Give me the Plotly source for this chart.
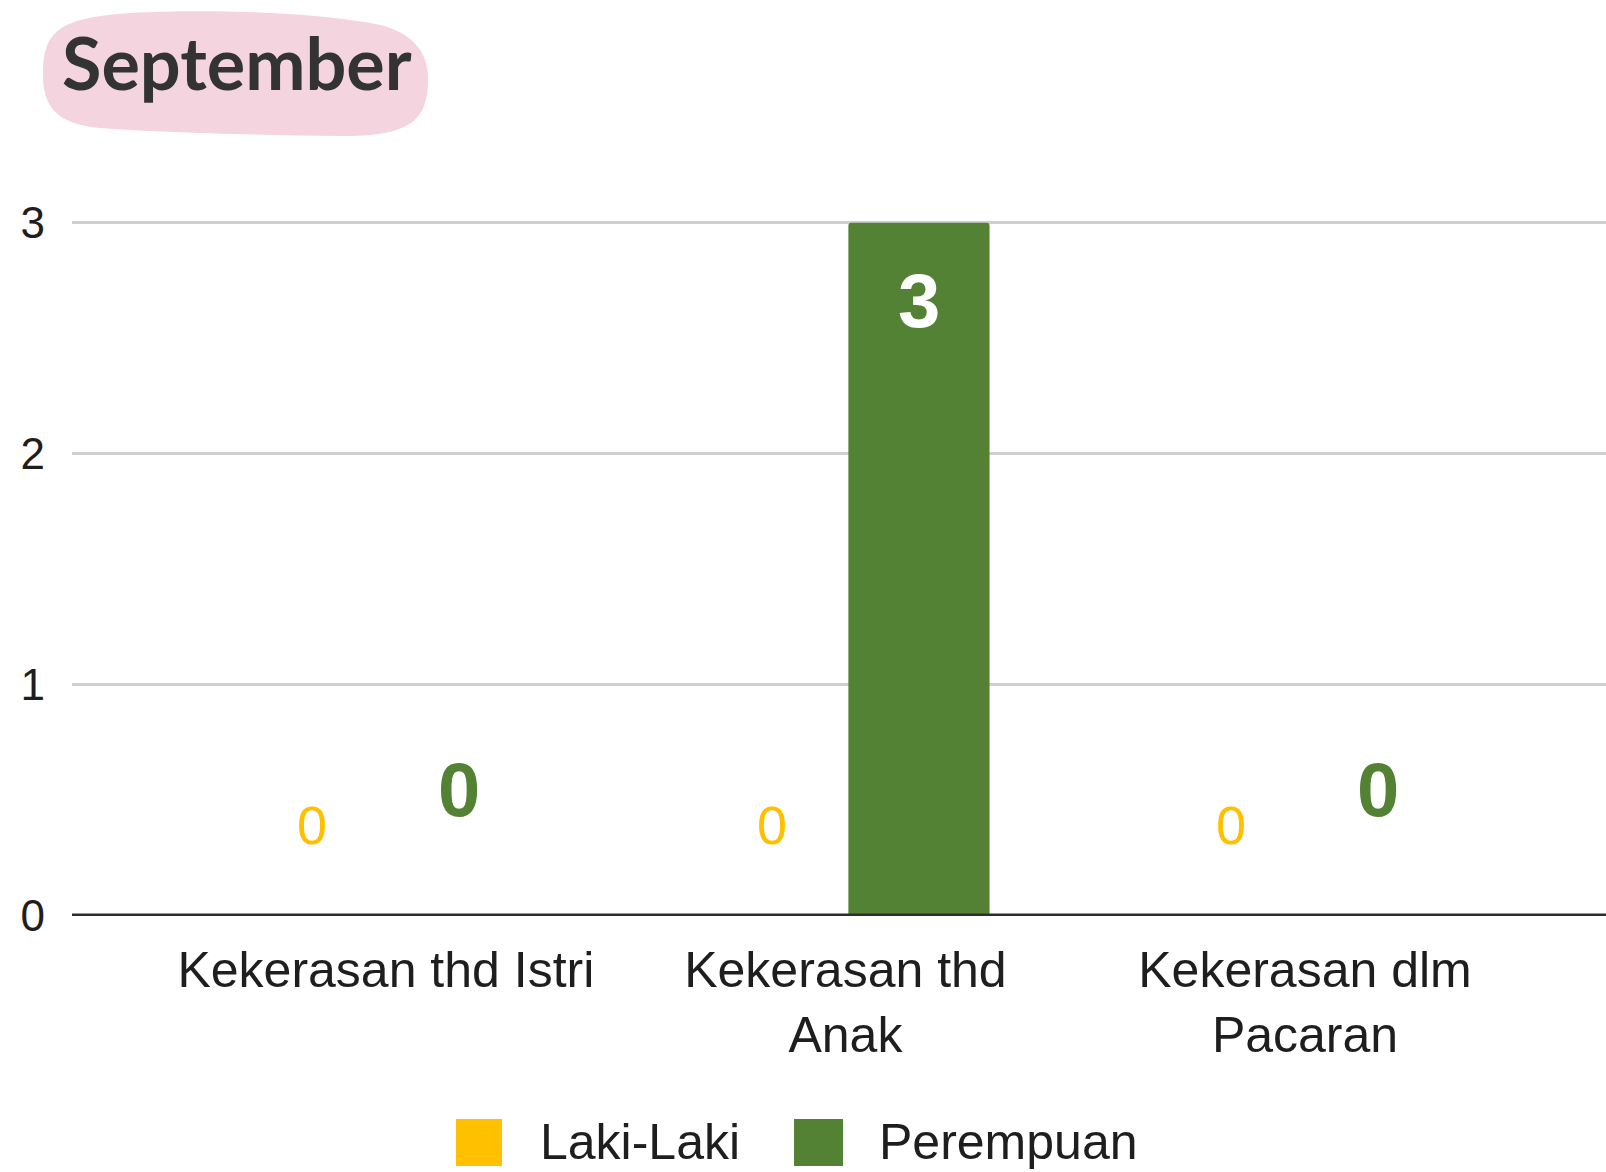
import plotly.graph_objects as go

# ---------------- data ----------------
categories = ["Kekerasan thd Istri", "Kekerasan thd Anak", "Kekerasan dlm Pacaran"]
tick_labels = ["Kekerasan thd Istri", "Kekerasan thd<br>Anak", "Kekerasan dlm<br>Pacaran"]
series_names = ["Laki-Laki", "Perempuan"]
laki_laki = [0, 0, 0]
perempuan = [0, 3, 0]
y_ticks = [0, 1, 2, 3]
title_text = "September"

# ---------------- style ----------------
W, H = 1606, 1172
L, R, T, B = 72, 0, 188, 256
YELLOW = "#FFC000"
GREEN = "#548235"
PINK = "#F4D5DF"
TEXT = "#1E1E1E"
FONT = "Liberation Sans, Arial, sans-serif"

PW = W - L - R
PH = H - T - B


def px2x(px):
    return (px - L) / PW


def py2y(py):
    return (H - B - py) / PH


fig = go.Figure()
fig.add_trace(go.Bar(x=categories, y=laki_laki, name=series_names[0],
                     marker=dict(color=YELLOW, cornerradius=3, line=dict(width=0)), showlegend=False))
fig.add_trace(go.Bar(x=categories, y=perempuan, name=series_names[1],
                     marker=dict(color=GREEN, cornerradius=3, line=dict(width=0)), showlegend=False))

annotations = []
# value labels
for i, v in enumerate(laki_laki):
    annotations.append(dict(
        x=categories[i], y=v, xref="x", yref="y", text=str(v), showarrow=False,
        xshift=-73.5, yshift=(91 if v == 0 else -78), yanchor="middle",
        font=dict(family=FONT, size=54, color=YELLOW if v == 0 else "white")))
for i, v in enumerate(perempuan):
    annotations.append(dict(
        x=categories[i], y=v, xref="x", yref="y", text=str(v), showarrow=False,
        xshift=73.5, yshift=(126.5 if v == 0 else -78), yanchor="middle",
        font=dict(family=FONT, size=76, color=GREEN if v == 0 else "white", weight="bold")))

shapes = []
# baseline (zero line) drawn above the bars
shapes.append(dict(type="line", xref="paper", yref="y", x0=0, x1=1, y0=0, y1=0,
                   line=dict(color="#2E2E2E", width=5), layer="above"))

# legend (manual, large swatches)
legend_items = [(series_names[0], YELLOW, 456, 502, 540), (series_names[1], GREEN, 794, 843, 879)]
for name, col, x0, x1, tx in legend_items:
    shapes.append(dict(type="rect", xref="paper", yref="paper",
                       x0=px2x(x0), x1=px2x(x1), y0=py2y(1166), y1=py2y(1119),
                       fillcolor=col, line=dict(width=0), layer="above"))
    annotations.append(dict(x=px2x(tx - 2), y=py2y(1142), xref="paper", yref="paper",
                            text=name, showarrow=False, xanchor="left", yanchor="middle",
                            font=dict(family=FONT, size=50, color=TEXT)))

# title blob
blob_pts = [
    ("M", [(43, 75)]),
    ("C", [(43, 30), (60, 18), (130, 13)]),
    ("C", [(220, 8), (330, 14), (380, 25)]),
    ("C", [(420, 35), (430, 60), (428, 85)]),
    ("C", [(426, 120), (410, 137), (340, 136)]),
    ("C", [(250, 135), (150, 132), (100, 128)]),
    ("C", [(55, 124), (43, 105), (43, 75)]),
]
path = ""
for cmd, pts in blob_pts:
    path += cmd + " " + " ".join(f"{px2x(a):.5f},{py2y(b):.5f}" for a, b in pts) + " "
path += "Z"
shapes.append(dict(type="path", path=path, xref="paper", yref="paper",
                   fillcolor=PINK, line=dict(width=0), layer="below"))
annotations.append(dict(x=px2x(237), y=py2y(62), xref="paper", yref="paper",
                        text=title_text, showarrow=False, xanchor="center", yanchor="middle",
                        font=dict(family="Lato, sans-serif", size=72, color="#333333", weight="bold")))

fig.update_layout(
    width=W, height=H,
    margin=dict(l=L, r=R, t=T, b=B, pad=0),
    paper_bgcolor="white", plot_bgcolor="white",
    barmode="group", bargap=0.36, bargroupgap=0.04,
    showlegend=False,
    annotations=annotations, shapes=shapes,
    xaxis=dict(range=[-0.683, 2.655], tickvals=categories, ticktext=tick_labels,
               showgrid=False, zeroline=False, showline=False, ticks="",
               tickfont=dict(family=FONT, size=50, color=TEXT), ticklabelstandoff=20),
    yaxis=dict(range=[0, 3.15], tickvals=y_ticks, showgrid=True, gridcolor="#CFCFCF", gridwidth=3,
               zeroline=False, showline=False, ticks="",
               tickfont=dict(family=FONT, size=44, color=TEXT), ticklabelstandoff=26),
    font=dict(family=FONT),
)

fig.write_html("out.html", config={"displayModeBar": False},
               post_script="document.body.style.margin='0';document.body.style.padding='0';")
